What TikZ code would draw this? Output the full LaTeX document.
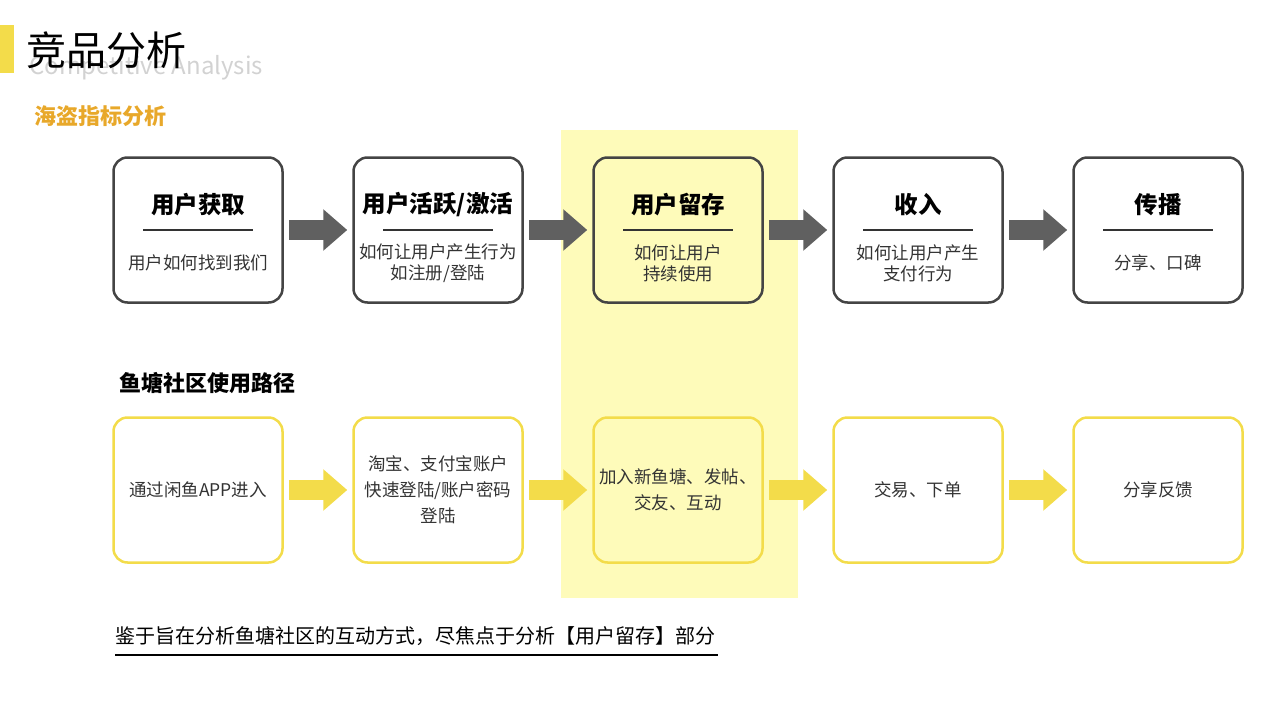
\documentclass[tikz,border=0pt]{standalone}
\usepackage{fontspec}
\setmainfont{Noto Sans CJK SC}
\usepackage{xcolor}
\usetikzlibrary{arrows.meta,positioning}
\definecolor{ink}{HTML}{333333}
\definecolor{frame}{HTML}{444444}
\definecolor{gold}{HTML}{F3DC4A}
\definecolor{pale}{HTML}{FEFBBA}
\definecolor{amber}{HTML}{E8A82A}

\begin{document}
\begin{tikzpicture}[x=1pt, y=-1pt,
  stage/.style={draw=frame, line width=2.5pt, rounded corners=14pt, minimum width=169pt, minimum height=145pt},
  path/.style={stage, draw=gold},
  step/.style={draw=#1, line width=20pt, shorten <=5pt, shorten >=5pt, -{Triangle[length=24pt,width=40pt]}},
  head/.style={font=\fontsize{23.5}{26}\selectfont\bfseries, text=black},
  note/.style={font=\fontsize{17.5}{21}\selectfont, text=ink, align=center}]
  \useasboundingbox (0,0) rectangle (1280,720);
  \fill[pale] (561,130) rectangle (798,598);
  % title
  \fill[gold] (0,25) rectangle (14,73);
  \node[anchor=west, text=gray!35, font=\fontsize{24}{26}\selectfont] at (26,68) {Competitive Analysis};
  \node[anchor=west, font=\fontsize{40}{42}\selectfont] at (23,50) {竞品分析};
  \node[anchor=west, text=amber, font=\fontsize{22}{24}\selectfont\bfseries] at (31,116) {海盗指标分析};

  % AARRR row
  \foreach \n/\x/\t/\s in {A1/198/{用户获取}/{用户如何找到我们},
                           A2/438/{用户活跃/激活}/{如何让用户产生行为\\如注册/登陆},
                           A3/678/{用户留存}/{如何让用户\\持续使用},
                           A4/918/{收入}/{如何让用户产生\\支付行为},
                           A5/1158/{传播}/{分享、口碑}} {
    \node[stage] (\n) at (\x,230) {};
    \node[head] at (\x,205) {\t};
    \draw[ink, line width=1.2pt] (\x-55,230) -- (\x+55,230);
    \node[note] at (\x,263) {\s};
  }
  \foreach \a/\b in {A1/A2, A2/A3, A3/A4, A4/A5}
    \draw[step=frame!85] (\a) -- (\b);

  % path row
  \node[anchor=west, font=\fontsize{22}{24}\selectfont\bfseries] at (116,383) {鱼塘社区使用路径};
  \foreach \n/\x/\s in {P1/198/{通过闲鱼APP进入},
                        P2/438/{淘宝、支付宝账户\\快速登陆/账户密码\\登陆},
                        P3/678/{加入新鱼塘、发帖、\\交友、互动},
                        P4/918/{交易、下单},
                        P5/1158/{分享反馈}}
    \node[path, note, font=\fontsize{17.5}{26}\selectfont] (\n) at (\x,490) {\s};
  \foreach \a/\b in {P1/P2, P2/P3, P3/P4, P4/P5}
    \draw[step=gold] (\a) -- (\b);

  \node[anchor=west, font=\fontsize{20}{22}\selectfont] (tail) at (112,636) {鉴于旨在分析鱼塘社区的互动方式，尽焦点于分析【用户留存】部分};
  \draw[line width=1.2pt] (115,655) -- (718,655);
\end{tikzpicture}
\end{document}
